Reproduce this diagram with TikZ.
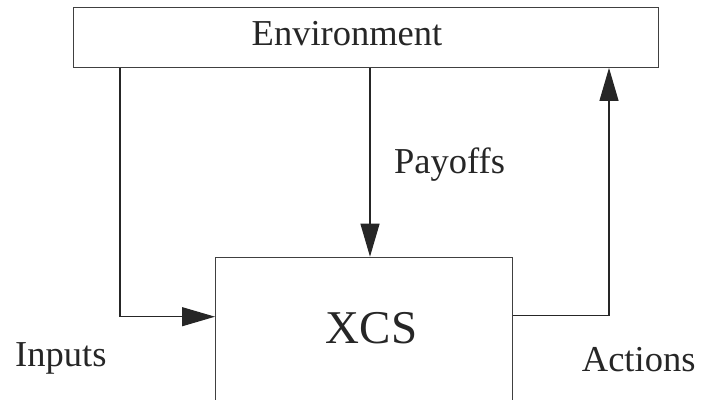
\documentclass[tikz,border=0pt]{standalone}
\usepackage{fontspec}
\setmainfont{Liberation Serif}
\usetikzlibrary{arrows.meta}
\begin{document}
\begin{tikzpicture}[x=1pt,y=-1pt,
  box/.style={draw=black!75, line width=1.2pt, inner sep=0pt},
  conn/.style={draw=black!75, line width=1.2pt},
  arr/.style={conn, -{Triangle[length=33pt,width=19pt]}, color=black!85},
  lbl/.style={inner sep=0pt, font=\fontsize{36.5}{40}\selectfont, text=black!85}]
\useasboundingbox (0,0) rectangle (701,399);
\clip (0,0) rectangle (701,399);
\node[box, minimum width=585pt, minimum height=60pt, anchor=north west] (env) at (72.5,6.7) {};
\node[box, minimum width=297pt, minimum height=200pt, anchor=north west] (xcs) at (215,256.7) {};
\node[lbl, anchor=base] (envt) at (347,45) {Environment};
\node[lbl, anchor=base, font=\fontsize{47}{52}\selectfont] (xcst) at (371.5,343) {XCS};
\node[lbl, anchor=base west] (pay) at (394,173.3) {Payoffs};
\node[lbl, anchor=base west] (inp) at (15,366.7) {Inputs};
\node[lbl, anchor=base west] (act) at (581.7,371.7) {Actions};
\coordinate (inx) at (120,316.7);
\coordinate (payx) at (370,0);
\coordinate (actx) at (609,315.7);
\draw[arr] (env.south -| inx) -- (inx) -- (xcs.west |- inx);
\draw[arr] (env.south -| payx) -- (xcs.north -| payx);
\draw[arr] (xcs.east |- actx) -- (actx) -- (env.south -| actx);
\end{tikzpicture}
\end{document}
